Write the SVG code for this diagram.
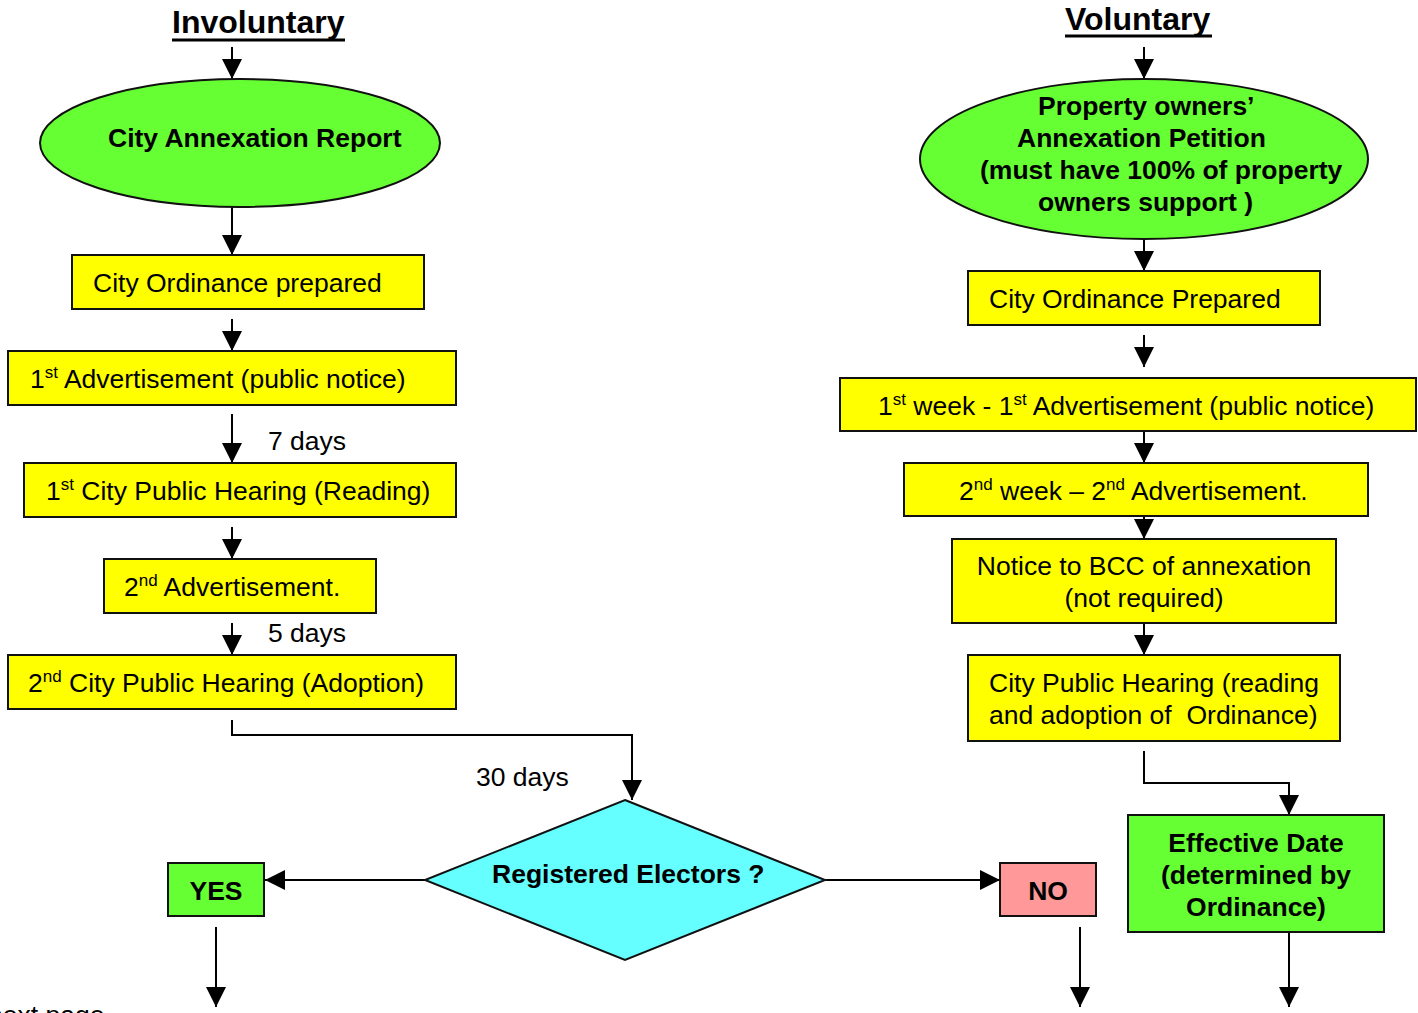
<svg xmlns="http://www.w3.org/2000/svg" width="1418" height="1013" viewBox="0 0 1418 1013">
<style>
  text { font-family: "Liberation Sans", Arial, sans-serif; fill: #000; }
  .t { font-size: 26.5px; }
  .b { font-size: 26.5px; font-weight: bold; }
  .h { font-size: 32px; font-weight: bold; }
  .ul { stroke: #000; stroke-width: 3; }
  .sup { font-size: 17px; }
  .yel { fill: #FFFF00; stroke: #111; stroke-width: 2; }
  .grn { fill: #66FF33; stroke: #111; stroke-width: 2; }
  .cyan { fill: #66FFFF; stroke: #111; stroke-width: 2; }
  .pink { fill: #FF9999; stroke: #111; stroke-width: 2; }
  .c { fill: none; stroke: #000; stroke-width: 2; }
  .a { marker-end: url(#ah); }
</style>
<defs>
  <marker id="ah" markerUnits="userSpaceOnUse" markerWidth="20" markerHeight="20" refX="20" refY="10" orient="auto" viewBox="0 0 20 20">
    <path d="M0,0 L20,10 L0,20 z" fill="#000"/>
  </marker>
</defs>
<rect width="1418" height="1013" fill="#fff"/>

<g id="title-involuntary">
  <text class="h" x="172" y="33">Involuntary</text>
  <line class="ul" x1="172" y1="40" x2="345" y2="40"/>
</g>
<g id="title-voluntary">
  <text class="h" x="1065" y="30">Voluntary</text>
  <line class="ul" x1="1065" y1="36" x2="1212" y2="36"/>
</g>

<g id="connectors">
  <line class="c a" x1="232" y1="47" x2="232" y2="79"/>
  <line class="c a" x1="232" y1="207" x2="232" y2="255"/>
  <line class="c a" x1="232" y1="319" x2="232" y2="351"/>
  <line class="c a" x1="232" y1="414" x2="232" y2="463"/>
  <line class="c a" x1="232" y1="527" x2="232" y2="559"/>
  <line class="c a" x1="232" y1="623" x2="232" y2="655"/>
  <polyline class="c a" points="232,720 232,735 632,735 632,800"/>
  <line class="c a" x1="425" y1="880" x2="265" y2="880"/>
  <line class="c a" x1="825" y1="880" x2="1000" y2="880"/>
  <line class="c a" x1="216" y1="927" x2="216" y2="1007"/>
  <line class="c a" x1="1080" y1="927" x2="1080" y2="1007"/>

  <line class="c a" x1="1144" y1="47" x2="1144" y2="79"/>
  <line class="c a" x1="1144" y1="239" x2="1144" y2="271"/>
  <line class="c a" x1="1144" y1="335" x2="1144" y2="367"/>
  <line class="c a" x1="1144" y1="431" x2="1144" y2="463"/>
  <line class="c a" x1="1144" y1="511" x2="1144" y2="539"/>
  <line class="c a" x1="1144" y1="623" x2="1144" y2="655"/>
  <polyline class="c a" points="1144,751 1144,783 1289,783 1289,815"/>
  <line class="c a" x1="1289" y1="927" x2="1289" y2="1007"/>
</g>

<text class="t" x="268" y="450">7 days</text>
<text class="t" x="268" y="642">5 days</text>
<text class="t" x="476" y="786">30 days</text>

<g id="n-city-report">
  <ellipse class="grn" cx="240" cy="143" rx="200" ry="64"/>
  <text class="b" x="108" y="147">City Annexation Report</text>
</g>
<g id="n-ord-prepared">
  <rect class="yel" x="72" y="255" width="352" height="54"/>
  <text class="t" x="93" y="292">City Ordinance prepared</text>
</g>
<g id="n-adv1">
  <rect class="yel" x="8" y="351" width="448" height="54"/>
  <text class="t" x="30" y="388">1<tspan class="sup" dy="-10">st</tspan><tspan dy="10"> Advertisement (public notice)</tspan></text>
</g>
<g id="n-hearing1">
  <rect class="yel" x="24" y="463" width="432" height="54"/>
  <text class="t" x="46" y="500">1<tspan class="sup" dy="-10">st</tspan><tspan dy="10"> City Public Hearing (Reading)</tspan></text>
</g>
<g id="n-adv2">
  <rect class="yel" x="104" y="559" width="272" height="54"/>
  <text class="t" x="124" y="596">2<tspan class="sup" dy="-10">nd</tspan><tspan dy="10"> Advertisement.</tspan></text>
</g>
<g id="n-hearing2">
  <rect class="yel" x="8" y="655" width="448" height="54"/>
  <text class="t" x="28" y="692">2<tspan class="sup" dy="-10">nd</tspan><tspan dy="10"> City Public Hearing (Adoption)</tspan></text>
</g>
<g id="n-electors">
  <polygon class="cyan" points="625,800 825,880 625,960 425,880"/>
  <text class="b" x="492" y="883">Registered Electors ?</text>
</g>
<g id="n-yes">
  <rect class="grn" x="168" y="863" width="96" height="53"/>
  <text class="b" x="216" y="900" text-anchor="middle">YES</text>
</g>
<g id="n-no">
  <rect class="pink" x="1000" y="863" width="96" height="53"/>
  <text class="b" x="1048" y="900" text-anchor="middle">NO</text>
</g>

<g id="n-petition">
  <ellipse class="grn" cx="1144" cy="159" rx="224" ry="80"/>
  <text class="b" x="1038" y="115">Property owners’</text>
  <text class="b" x="1017" y="147">Annexation Petition</text>
  <text class="b" x="980" y="179">(must have 100% of property</text>
  <text class="b" x="1038" y="211">owners support )</text>
</g>
<g id="n-ord-prepared-v">
  <rect class="yel" x="968" y="271" width="352" height="54"/>
  <text class="t" x="989" y="308">City Ordinance Prepared</text>
</g>
<g id="n-week1">
  <rect class="yel" x="840" y="378" width="576" height="53"/>
  <text class="t" x="878" y="415">1<tspan class="sup" dy="-10">st</tspan><tspan dy="10"> week - 1</tspan><tspan class="sup" dy="-10">st</tspan><tspan dy="10"> Advertisement (public notice)</tspan></text>
</g>
<g id="n-week2">
  <rect class="yel" x="904" y="463" width="464" height="53"/>
  <text class="t" x="959" y="500">2<tspan class="sup" dy="-10">nd</tspan><tspan dy="10"> week – 2</tspan><tspan class="sup" dy="-10">nd</tspan><tspan dy="10"> Advertisement.</tspan></text>
</g>
<g id="n-bcc">
  <rect class="yel" x="952" y="539" width="384" height="84"/>
  <text class="t" x="1144" y="575" text-anchor="middle">Notice to BCC of annexation</text>
  <text class="t" x="1144" y="607" text-anchor="middle">(not required)</text>
</g>
<g id="n-hearing-v">
  <rect class="yel" x="968" y="655" width="372" height="86"/>
  <text class="t" x="989" y="692">City Public Hearing (reading</text>
  <text class="t" x="989" y="724" xml:space="preserve">and adoption of  Ordinance)</text>
</g>
<g id="n-effective">
  <rect class="grn" x="1128" y="815" width="256" height="117"/>
  <text class="b" x="1256" y="852" text-anchor="middle">Effective Date</text>
  <text class="b" x="1256" y="884" text-anchor="middle">(determined by</text>
  <text class="b" x="1256" y="916" text-anchor="middle">Ordinance)</text>
</g>

<text class="t" x="-12" y="1024">next page</text>
</svg>
